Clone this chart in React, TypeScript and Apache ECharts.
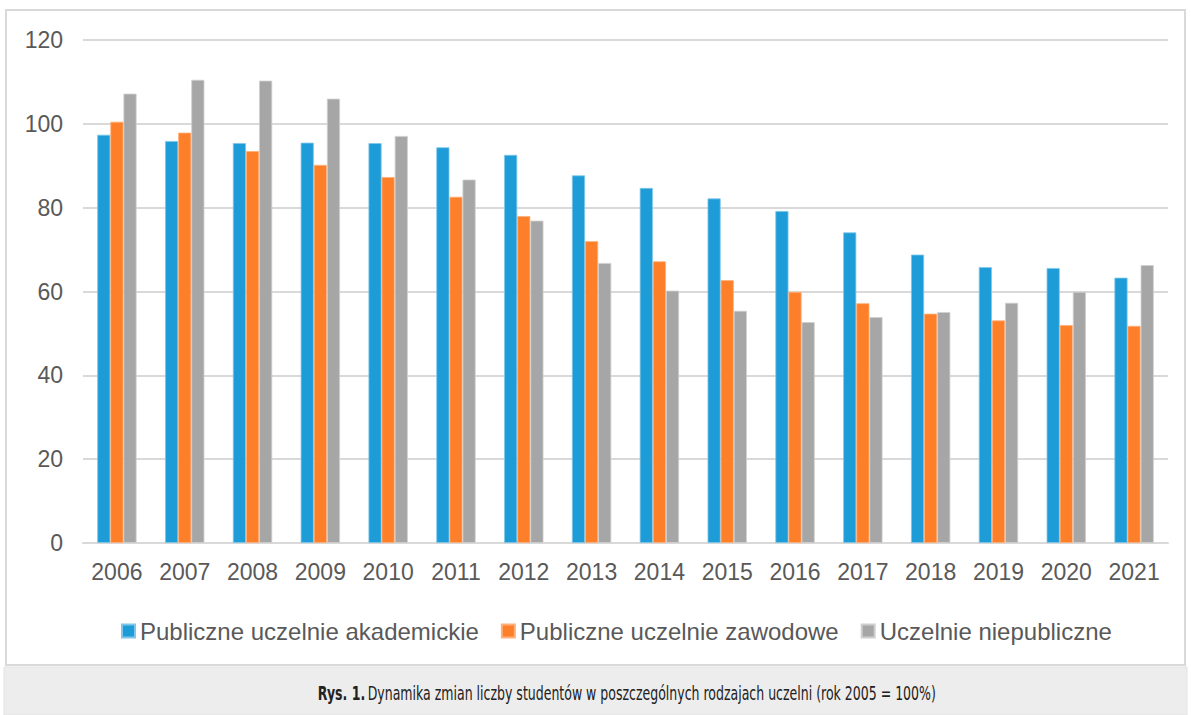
import React, { useEffect, useRef } from "react";
import * as echarts from "echarts";

const years = ["2006","2007","2008","2009","2010","2011","2012","2013","2014","2015","2016","2017","2018","2019","2020","2021"];
const akademickie = [97.4, 95.9, 95.4, 95.5, 95.4, 94.4, 92.6, 87.7, 84.7, 82.2, 79.2, 74.1, 68.8, 65.8, 65.6, 63.3];
const zawodowe = [100.5, 97.9, 93.5, 90.2, 87.3, 82.6, 78.0, 72.0, 67.2, 62.7, 59.9, 57.2, 54.7, 53.1, 52.0, 51.8];
const niepubliczne = [107.2, 110.5, 110.3, 106.0, 97.1, 86.7, 76.9, 66.8, 60.2, 55.4, 52.7, 53.9, 55.1, 57.3, 59.9, 66.3];
const seriesNames = ["Publiczne uczelnie akademickie", "Publiczne uczelnie zawodowe", "Uczelnie niepubliczne"];
const yTicks = { min: 0, max: 120, interval: 20 };

export default function App() {
  const ref = useRef<HTMLDivElement>(null);
  useEffect(() => {
    if (!ref.current) return;
    const chart = echarts.init(ref.current, null, { renderer: "svg" });
    const colors = ["#1E9CD7", "#FE7F29", "#A6A6A6"];
    const borders = ["#7FC6EA", "#FFB07A", "#CFCFCF"];
    const data = [akademickie, zawodowe, niepubliczne];
    chart.setOption({
      animation: false,
      backgroundColor: "#ffffff",
      textStyle: { fontFamily: "Liberation Sans, Arial, sans-serif" },
      graphic: [
        {
          type: "rect",
          z: -10,
          shape: { x: 6, y: 10, width: 1179, height: 655 },
          style: { fill: "#ffffff", stroke: "#d9d9d9", lineWidth: 2 },
        },
        {
          type: "rect",
          z: -10,
          shape: { x: 4, y: 667, width: 1183, height: 48 },
          style: { fill: "#ededed", stroke: "#e3e3e3", lineWidth: 1 },
        },
        {
          type: "text",
          x: 627,
          y: 694,
          scaleX: 0.66,
          style: {
            text: "{b|Rys. 1.} {n|Dynamika zmian liczby studentów w poszczególnych rodzajach uczelni (rok 2005 = 100%)}",
            align: "center",
            verticalAlign: "middle",
            rich: {
              b: { fontFamily: "DejaVu Sans, sans-serif", fontWeight: "bold", fontSize: 19, fill: "#222222" },
              n: { fontFamily: "DejaVu Sans, sans-serif", fontSize: 19, fill: "#222222" },
            },
          },
        },
      ],
      grid: { left: 83, right: 23, top: 40, bottom: 172, containLabel: false },
      legend: {
        left: 116,
        top: 614,
        itemWidth: 13,
        itemHeight: 13,
        itemGap: 22,
        icon: "rect",
        textStyle: { fontSize: 24, color: "#595959", fontFamily: "Liberation Sans, Arial, sans-serif" },
        data: seriesNames,
      },
      xAxis: {
        type: "category",
        data: years,
        axisLine: { lineStyle: { color: "#d9d9d9", width: 2 } },
        axisTick: { show: false },
        axisLabel: { fontSize: 23, color: "#595959", margin: 17, interval: 0 },
      },
      yAxis: {
        type: "value",
        min: yTicks.min,
        max: yTicks.max,
        interval: yTicks.interval,
        axisLine: { show: false },
        axisTick: { show: false },
        splitLine: { lineStyle: { color: "#d9d9d9", width: 2 } },
        axisLabel: { fontSize: 23, color: "#595959", margin: 20 },
      },
      series: seriesNames.map((name, i) => ({
        name,
        type: "bar",
        data: data[i],
        barGap: "0%",
        barCategoryGap: "42%",
        itemStyle: { color: colors[i], borderColor: borders[i], borderWidth: 0.8 },
      })),
    });
    return () => chart.dispose();
  }, []);
  return <div ref={ref} style={{ position: "fixed", left: 0, top: 0, width: 1191, height: 715 }} />;
}
